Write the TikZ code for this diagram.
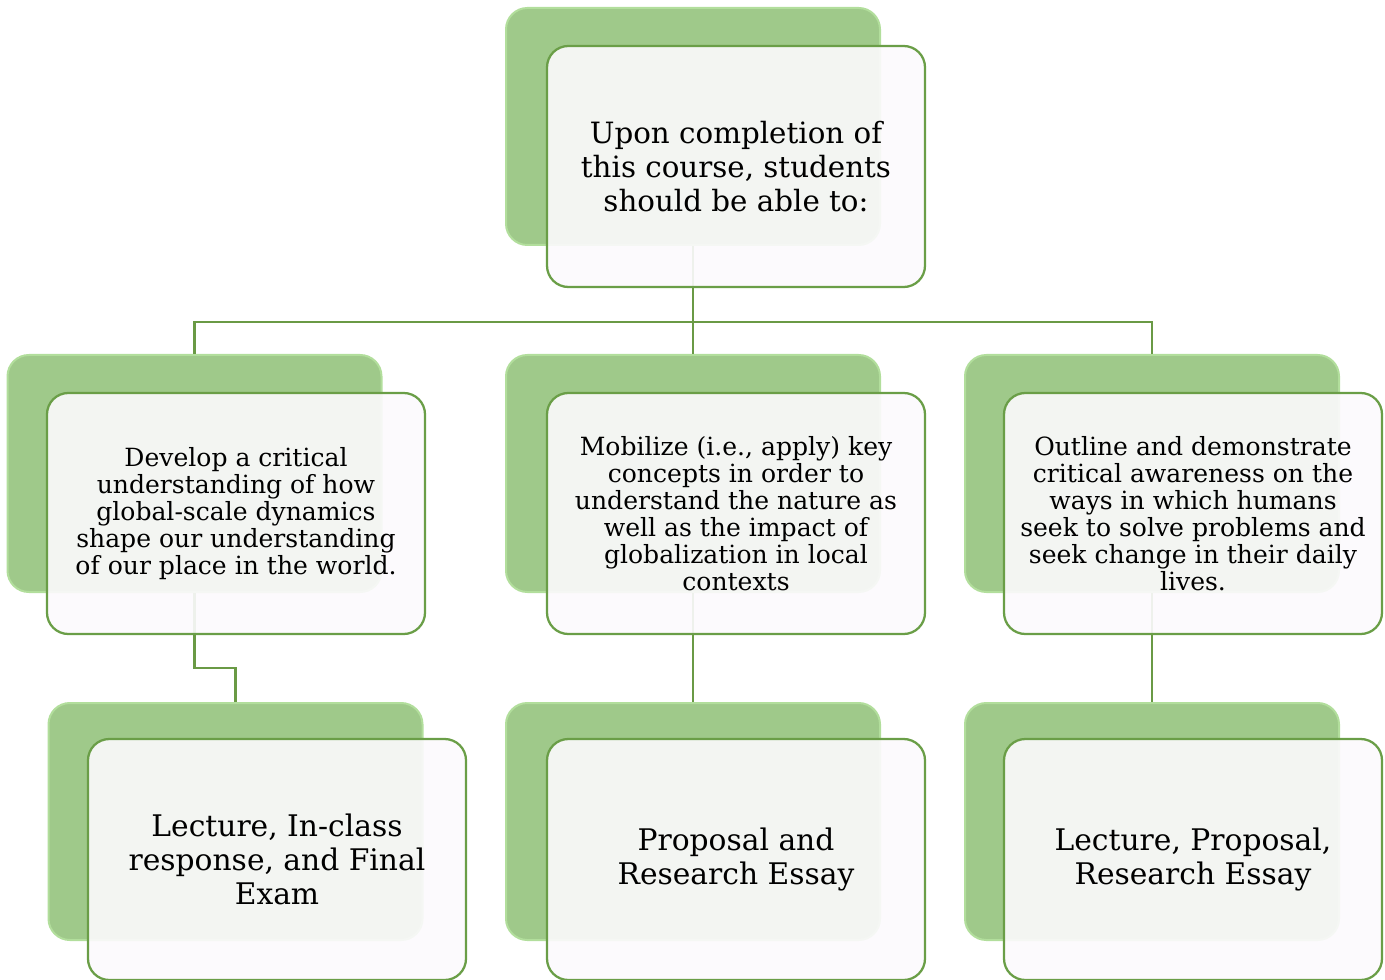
\documentclass[tikz,border=0pt]{standalone}
\usepackage{fontspec}
\setmainfont{DejaVu Serif}
\definecolor{backgreen}{HTML}{9FC98A}
\definecolor{backedge}{HTML}{B2DE9C}
\definecolor{frontedge}{HTML}{6A9E47}
\definecolor{linkgreen}{HTML}{6A9A45}
\definecolor{frontfill}{HTML}{FCFAFD}
\tikzset{
  backbox/.style={rounded corners=16pt, minimum width=280.5pt, minimum height=177.75pt,
    fill=backgreen, draw=backedge, line width=1.5pt, inner sep=0pt},
  frontbox/.style={rounded corners=16pt, minimum width=283.5pt, minimum height=180.75pt,
    fill=frontfill, fill opacity=0.91, text opacity=1, draw=frontedge, line width=1.7pt,
    align=center, inner sep=0pt},
  link/.style={draw=linkgreen, line width=1.7pt},
  bigtxt/.style={font=\fontsize{22}{25.2}\selectfont},
  rowtxt/.style={font=\fontsize{22.3}{25.5}\selectfont},
  smalltxt/.style={font=\fontsize{18.8}{20.25}\selectfont},
}
\begin{document}
\begin{tikzpicture}[x=0.75pt,y=-0.75pt]
\useasboundingbox (0,0) rectangle (1385,980);
% back boxes
\node[backbox] (b0) at (693,126.5) {};
\node[backbox] (b1) at (194.5,473.5) {};
\node[backbox] (b2) at (693,473.5) {};
\node[backbox] (b3) at (1152,473.5) {};
\node[backbox] (b4) at (235.5,821.5) {};
\node[backbox] (b5) at (693,821.5) {};
\node[backbox] (b6) at (1152,821.5) {};
% connectors
\coordinate (j0) at (693,322);
\coordinate (j1) at (194.5,668);
\draw[link] (b0.south) -- (j0);
\draw[link] (j0) -| (b1.north);
\draw[link] (j0) -- (b2.north);
\draw[link] (j0) -| (b3.north);
\draw[link] (b1.south) -- (j1) -| (b4.north);
\draw[link] (b2.south) -- (b5.north);
\draw[link] (b3.south) -- (b6.north);
% front boxes
\node[frontbox,bigtxt] (f0) at (736,166.5) {Upon completion of\\this course, students\\should be able to:};
\node[frontbox,smalltxt] (f1) at (236,513.5) {Develop a critical\\understanding of how\\global-scale dynamics\\shape our understanding\\of our place in the world.};
\node[frontbox,smalltxt] (f2) at (736,513.5) {Mobilize (i.e., apply) key\\concepts in order to\\understand the nature as\\well as the impact of\\globalization in local\\contexts};
\node[frontbox,smalltxt] (f3) at (1193,513.5) {Outline and demonstrate\\critical awareness on the\\ways in which humans\\seek to solve problems and\\seek change in their daily\\lives.};
\node[frontbox,rowtxt] (f4) at (277,859.5) {Lecture, In-class\\response, and Final\\Exam};
\node[frontbox,rowtxt] (f5) at (736,859.5) {Proposal and\\Research Essay};
\node[frontbox,rowtxt] (f6) at (1193,859.5) {Lecture, Proposal,\\Research Essay};
\end{tikzpicture}
\end{document}
